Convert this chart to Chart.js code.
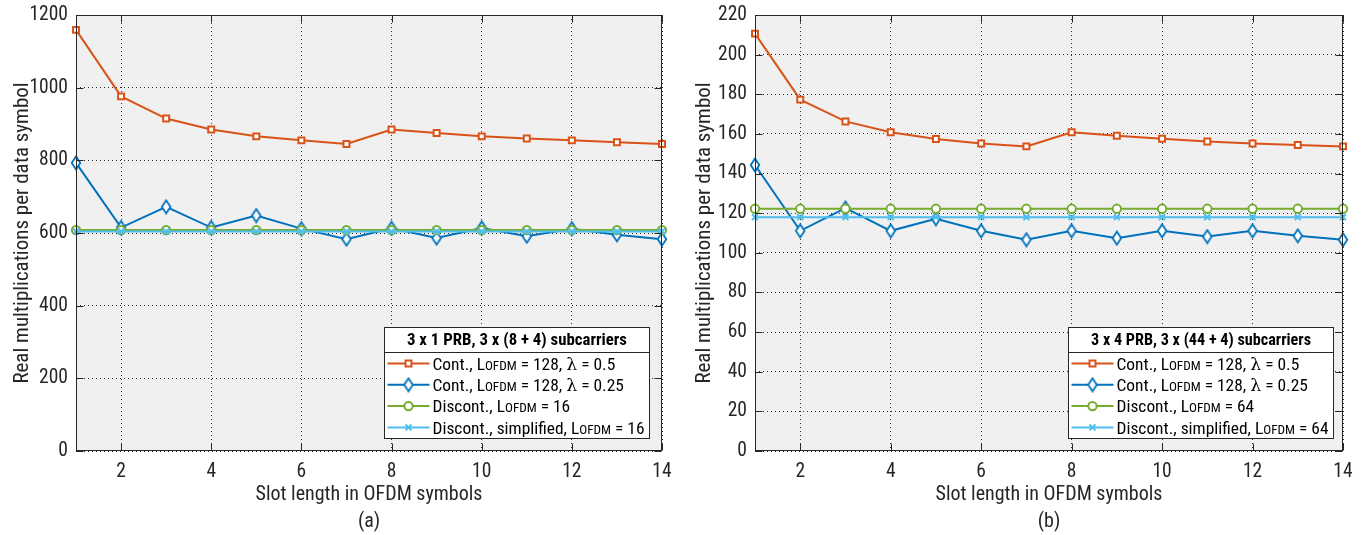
<!DOCTYPE html>
<html><head><meta charset="utf-8">
<script src="https://cdn.jsdelivr.net/npm/chart.js@4.4.1/dist/chart.umd.min.js"></script>
<style>
html,body{margin:0;padding:0;background:#fff;}
#wrap{position:relative;width:1364px;height:535px;overflow:hidden;}
.c{position:absolute;top:0;width:682px;height:535px;}
</style></head><body>
<div id="wrap">
<div class="c" style="left:0"><canvas id="ca" width="682" height="535"></canvas></div>
<div class="c" style="left:682px"><canvas id="cb" width="682" height="535"></canvas></div>
</div>
<script>
// ---------- data ----------
const slotLengths = [1,2,3,4,5,6,7,8,9,10,11,12,13,14];
const xTicks = [2,4,6,8,10,12,14];
const yTicksA = [0,200,400,600,800,1000,1200];
const yTicksB = [0,20,40,60,80,100,120,140,160,180,200,220];

const contHalfA     = [1159,976,915,885,866,855,845,885,875,866,860,855,850,845];
const contQuarterA  = [793,615,672,615,648,612,583,613,586,614,591,612,595,583];
const discontA      = [608,608,608,608,608,608,608,608,608,608,608,608,608,608];
const discontSimpA  = [604,604,604,604,604,604,604,604,604,604,604,604,604,604];

const contHalfB     = [210.6,177.3,166.3,160.8,157.4,155.2,153.7,160.8,159.1,157.6,156.2,155.2,154.4,153.7];
const contQuarterB  = [144.3,111.1,122.6,111.1,117.2,111.1,106.6,111.1,107.4,111.1,108.2,111.1,108.6,106.6];
const discontB      = [122.2,122.2,122.2,122.2,122.2,122.2,122.2,122.2,122.2,122.2,122.2,122.2,122.2,122.2];
const discontSimpB  = [118,118,118,118,118,118,118,118,118,118,118,118,118,118];

const labelsA = ['Cont., L{OFDM} = 128, λ = 0.5','Cont., L{OFDM} = 128, λ = 0.25','Discont., L{OFDM} = 16','Discont., simplified, L{OFDM} = 16'];
const labelsB = ['Cont., L{OFDM} = 128, λ = 0.5','Cont., L{OFDM} = 128, λ = 0.25','Discont., L{OFDM} = 64','Discont., simplified, L{OFDM} = 64'];
const legendTitleA = '3 x 1 PRB, 3 x (8 + 4) subcarriers';
const legendTitleB = '3 x 4 PRB, 3 x (44 + 4) subcarriers';
const xTitle = 'Slot length in OFDM symbols';
const yTitle = 'Real multiplications per data symbol';
const captionA = '(a)';
const captionB = '(b)';

// ---------- styles ----------
const FONT = "'Roboto Condensed','Open Sans',sans-serif";
const TXT = '#262626';
const COL = {orange:'#D95319', blue:'#0072BD', green:'#77AC30', cyan:'#4DBEEE'};

function makeDiamond(color){
  const c = document.createElement('canvas');
  c.width = 12; c.height = 16;
  const g = c.getContext('2d');
  g.beginPath(); g.moveTo(6,1.5); g.lineTo(10.3,8); g.lineTo(6,14.5); g.lineTo(1.7,8); g.closePath();
  g.fillStyle = '#fff'; g.fill(); g.lineWidth = 1.8; g.strokeStyle = color; g.stroke();
  return c;
}
const diamond = makeDiamond(COL.blue);

function series(vals, label, color, style, radius, order){
  return {
    label: label.replace(/[{}]/g,''),
    rawLabel: label,
    data: slotLengths.map((x,i)=>({x:x, y:vals[i]})),
    borderColor: color, borderWidth: 2,
    pointStyle: style, pointRadius: radius, pointHoverRadius: radius,
    pointBackgroundColor: style==='crossRot' ? color : '#fff',
    pointBorderColor: color, pointBorderWidth: 2,
    tension: 0, clip: false, order: order
  };
}

function drawMarker(ctx, ds, x, y){
  ctx.save();
  ctx.fillStyle = ds.pointBackgroundColor; ctx.strokeStyle = ds.pointBorderColor; ctx.lineWidth = ds.pointBorderWidth;
  const st = ds.pointStyle, r = ds.pointRadius;
  if (typeof st === 'object') { ctx.drawImage(st, x - st.width/2, y - st.height/2); }
  else if (st === 'rect') { const s = Math.SQRT1_2*r; ctx.beginPath(); ctx.rect(x-s,y-s,2*s,2*s); ctx.fill(); ctx.stroke(); }
  else if (st === 'circle') { ctx.beginPath(); ctx.arc(x,y,r,0,Math.PI*2); ctx.fill(); ctx.stroke(); }
  else if (st === 'crossRot') { const s = Math.SQRT1_2*r; ctx.beginPath(); ctx.moveTo(x-s,y-s); ctx.lineTo(x+s,y+s); ctx.moveTo(x+s,y-s); ctx.lineTo(x-s,y+s); ctx.stroke(); }
  ctx.restore();
}

const LSZ = 17.4;
function segs(label){
  return label.split(/(\{[^}]+\}|λ)/).filter(s=>s.length).map(s=>{
    if (s[0]==='{') return {t:s.slice(1,-1), f:(LSZ*0.76).toFixed(1)+"px "+FONT};
    if (s==='λ') return {t:s, f:LSZ+"px 'DejaVu Serif','Liberation Serif',serif"};
    return {t:s, f:LSZ+"px "+FONT};
  });
}
function segWidth(ctx, sg){ let w=0; sg.forEach(s=>{ctx.font=s.f; w+=ctx.measureText(s.t).width;}); return w; }

const framePlugin = {
  id:'frame',
  beforeDraw(chart){
    const {ctx, chartArea:a} = chart;
    ctx.save(); ctx.fillStyle = '#f0f0f0'; ctx.fillRect(a.left, a.top, a.right-a.left, a.bottom-a.top); ctx.restore();
  },
  afterDraw(chart){
    const {ctx, chartArea:a} = chart;
    const o = chart.options.plugins.frame;
    const L = Math.round(a.left)+0.5, R = Math.round(a.right)-0.5, T = Math.round(a.top)+0.5, B = Math.round(a.bottom)-0.5;
    ctx.save();
    ctx.strokeStyle = TXT; ctx.lineWidth = 1; ctx.setLineDash([]);
    ctx.strokeRect(L, T, R-L, B-T);
    const tl = 7;
    ctx.beginPath();
    chart.scales.x.ticks.forEach(t=>{ const px = Math.round(chart.scales.x.getPixelForValue(t.value))+0.5;
      ctx.moveTo(px,B); ctx.lineTo(px,B-tl); ctx.moveTo(px,T); ctx.lineTo(px,T+tl); });
    chart.scales.y.ticks.forEach(t=>{ const py = Math.round(chart.scales.y.getPixelForValue(t.value))+0.5;
      ctx.moveTo(L,py); ctx.lineTo(L+tl,py); ctx.moveTo(R,py); ctx.lineTo(R-tl,py); });
    ctx.stroke();

    // legend
    const dsets = chart.data.datasets;
    const sgs = dsets.map(d=>segs(d.rawLabel));
    const textW = Math.max(...sgs.map(s=>segWidth(ctx,s)));
    const w = Math.round(48 + textW + 5);
    ctx.font = 'bold '+LSZ+'px '+FONT;
    const titleW = ctx.measureText(o.title).width;
    const sx = Math.min(1, (textW + 8) / titleW);
    const h = 111;
    const bx = Math.round(a.right - o.marginRight - w) + 0.5;
    const by = Math.round(a.bottom - 13 - h) + 0.5;
    ctx.fillStyle = '#fff'; ctx.fillRect(bx, by, w, h);
    ctx.strokeStyle = TXT; ctx.lineWidth = 1; ctx.strokeRect(bx, by, w, h);
    ctx.beginPath(); ctx.moveTo(bx, by+25); ctx.lineTo(bx+w, by+25); ctx.stroke();
    ctx.fillStyle = '#000'; ctx.textAlign = 'center'; ctx.textBaseline = 'middle';
    ctx.save();
    ctx.translate(bx + w/2, by + 13);
    ctx.scale(sx, 1);
    ctx.font = 'bold '+LSZ+'px '+FONT;
    ctx.fillText(o.title, 0, 0);
    ctx.restore();
    ctx.textAlign = 'left'; ctx.textBaseline = 'alphabetic';
    dsets.forEach((d,i)=>{
      const cy = by + 36 + i*21.3;
      ctx.save(); ctx.strokeStyle = d.borderColor; ctx.lineWidth = d.borderWidth;
      ctx.beginPath(); ctx.moveTo(bx+3, cy); ctx.lineTo(bx+45, cy); ctx.stroke(); ctx.restore();
      drawMarker(ctx, d, bx+24, cy);
      let tx = bx + 48;
      ctx.fillStyle = '#000';
      sgs[i].forEach(s=>{ ctx.font = s.f; ctx.fillText(s.t, tx, cy + 6.3); tx += ctx.measureText(s.t).width; });
    });
    ctx.restore();
  }
};

function makeChart(id, sets, yTicks, yMax, caption, title, leftW, padRight, marginRight){
  return new Chart(document.getElementById(id), {
    type:'line',
    data:{ datasets: sets },
    options:{
      responsive:false, animation:false, devicePixelRatio:1,
      layout:{ padding:{ left:0, right:padRight, top:15, bottom:0 } },
      plugins:{ legend:{display:false}, tooltip:{enabled:false}, frame:{ title:title, marginRight:marginRight } },
      scales:{
        x:{ type:'linear', min:1, max:14,
          afterBuildTicks:s=>{ s.ticks = xTicks.map(v=>({value:v})); },
          afterFit:s=>{ s.height = 84; s.paddingLeft = 0; s.paddingRight = 0; },
          ticks:{ font:{family:FONT, size:19.5}, color:TXT, padding:9, maxRotation:0, callback:v=>String(v) },
          grid:{ color:'rgba(0,0,0,0.8)', lineWidth:1, drawTicks:false },
          border:{ display:false, dash:[1,3] },
          title:{ display:true, text:[xTitle, caption], font:{family:FONT, size:20, lineHeight:1.34}, color:TXT, padding:{top:0,bottom:0} }
        },
        y:{ min:0, max:yMax,
          afterBuildTicks:s=>{ s.ticks = yTicks.map(v=>({value:v})); },
          afterFit:s=>{ s.width = leftW; s.paddingTop = 0; s.paddingBottom = 0; },
          ticks:{ font:{family:FONT, size:19.5}, color:TXT, padding:8, callback:v=>String(v) },
          grid:{ color:'rgba(0,0,0,0.8)', lineWidth:1, drawTicks:false },
          border:{ display:false, dash:[1,3] },
          title:{ display:true, text:yTitle, font:{family:FONT, size:21, lineHeight:1.3}, color:TXT, padding:{top:9,bottom:0} }
        }
      }
    },
    plugins:[framePlugin]
  });
}

makeChart('ca', [
  series(contHalfA, labelsA[0], COL.orange, 'rect', 4.2, 4),
  series(contQuarterA, labelsA[1], COL.blue, diamond, 6, 3),
  series(discontA, labelsA[2], COL.green, 'circle', 4.2, 2),
  series(discontSimpA, labelsA[3], COL.cyan, 'crossRot', 4.2, 1)
], yTicksA, 1200, captionA, legendTitleA, 76, 20, 13);

makeChart('cb', [
  series(contHalfB, labelsB[0], COL.orange, 'rect', 4.2, 4),
  series(contQuarterB, labelsB[1], COL.blue, diamond, 6, 3),
  series(discontB, labelsB[2], COL.green, 'circle', 4.2, 2),
  series(discontSimpB, labelsB[3], COL.cyan, 'crossRot', 4.2, 1)
], yTicksB, 220, captionB, legendTitleB, 73, 21, 10);
</script>
</body></html>
